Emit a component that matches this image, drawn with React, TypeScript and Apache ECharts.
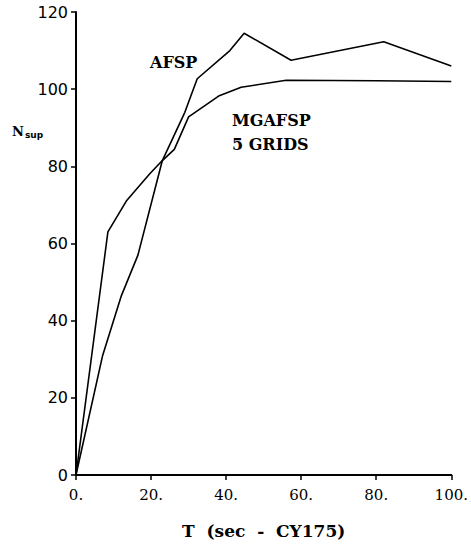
import React, { useEffect, useRef } from "react";
import * as echarts from "echarts";

const tAfsp = [0, 7.1, 12.1, 16.5, 23, 29, 32.3, 41, 44.8, 57.3, 82, 100];
const nAfsp = [0, 31, 46.5, 57, 81.5, 94, 102.7, 110, 114.5, 107.5, 112.3, 106];
const tMg = [0, 8.5, 13.4, 19.6, 23, 26.2, 30, 38, 44, 56, 80, 100];
const nMg = [0, 63, 71, 78, 81.5, 84.4, 92.8, 98.2, 100.5, 102.3, 102.2, 102];
const xTicks = [0, 20, 40, 60, 80, 100];
const yTicks = [0, 20, 40, 60, 80, 100, 120];
const seriesNames = ["AFSP", "MGAFSP"];
const xTitle = "T  (sec  -  CY175)";

export default function App() {
  const ref = useRef<HTMLDivElement>(null);
  useEffect(() => {
    document.body.style.margin = "0";
    const chart = echarts.init(ref.current!, null, { renderer: "svg" });
    const afsp = tAfsp.map((t, i) => [t, nAfsp[i]]);
    const mg = tMg.map((t, i) => [t, nMg[i]]);
    const lineStyle = { color: "#000", width: 1.6 };
    chart.setOption({
      animation: false,
      backgroundColor: "#fff",
      grid: { left: 76, right: 18, top: 12, bottom: 67 },
      xAxis: {
        type: "value",
        min: xTicks[0],
        max: xTicks[xTicks.length - 1],
        interval: 20,
        axisLine: { lineStyle: { color: "#000", width: 2 } },
        axisTick: { show: true, length: 5, lineStyle: { color: "#000", width: 1.5 } },
        splitLine: { show: false },
        axisLabel: {
          formatter: (v: number) => v + ".",
          color: "#000",
          fontFamily: "DejaVu Serif",
          fontSize: 15,
          margin: 12,
        },
        name: xTitle,
        nameLocation: "middle",
        nameGap: 47,
        nameTextStyle: {
          color: "#000",
          fontFamily: "DejaVu Serif",
          fontWeight: "bold",
          fontSize: 17,
        },
      },
      yAxis: {
        type: "value",
        min: yTicks[0],
        max: yTicks[yTicks.length - 1],
        interval: 20,
        axisLine: { show: true, lineStyle: { color: "#000", width: 2 } },
        axisTick: { show: true, length: 5, lineStyle: { color: "#000", width: 1.5 } },
        splitLine: { show: false },
        axisLabel: {
          color: "#000",
          fontFamily: "DejaVu Sans",
          fontSize: 16,
          margin: 8,
        },
      },
      series: [
        {
          name: seriesNames[0],
          type: "line",
          data: afsp,
          showSymbol: false,
          symbol: "none",
          lineStyle,
        },
        {
          name: seriesNames[1],
          type: "line",
          data: mg,
          showSymbol: false,
          symbol: "none",
          lineStyle,
        },
      ],
      graphic: [
        {
          type: "text",
          x: 150,
          y: 62,
          style: {
            text: "AFSP",
            font: "bold 16px 'DejaVu Serif'",
            fill: "#000",
            verticalAlign: "middle",
          },
        },
        {
          type: "text",
          x: 232,
          y: 120,
          style: {
            text: "MGAFSP",
            font: "bold 16px 'DejaVu Serif'",
            fill: "#000",
            verticalAlign: "middle",
          },
        },
        {
          type: "text",
          x: 232,
          y: 144,
          style: {
            text: "5 GRIDS",
            font: "bold 16px 'DejaVu Serif'",
            fill: "#000",
            verticalAlign: "middle",
          },
        },
        {
          type: "text",
          x: 12,
          y: 131,
          style: {
            text: "{n|N}{s|sup}",
            fill: "#000",
            verticalAlign: "middle",
            rich: {
              n: { font: "bold 13px 'DejaVu Serif'", fill: "#000" },
              s: { font: "bold 9px 'DejaVu Sans'", fill: "#000", padding: [8, 0, 0, 1] },
            },
          },
        },
      ],
    });
    return () => chart.dispose();
  }, []);
  return <div ref={ref} style={{ width: 471, height: 544 }} />;
}
